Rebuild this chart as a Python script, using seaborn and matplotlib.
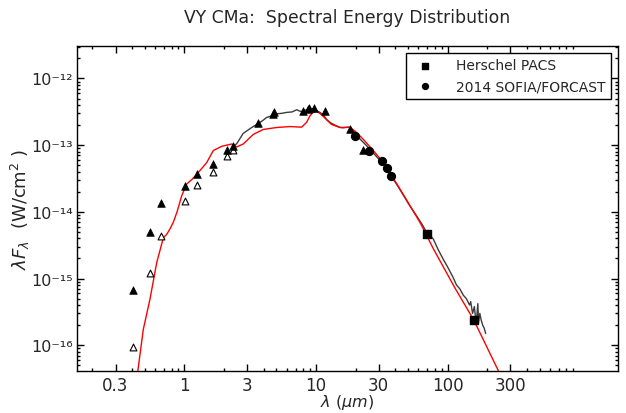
import numpy as np
import pandas as pd
import seaborn as sns
import matplotlib
matplotlib.use("Agg")
import matplotlib.pyplot as plt
from matplotlib.ticker import FixedLocator, NullFormatter, FuncFormatter

# Photometry: filled triangles (observed), open triangles (second set)
tri_fill_wl = [0.41, 0.55, 0.665, 1.02, 1.25, 1.65, 2.12, 2.34, 3.65, 4.69, 4.82,
               8.0, 8.65, 8.85, 9.71, 11.7, 18.1, 22.9]
tri_fill_f = [6.8e-16, 4.96e-15, 1.35e-14, 2.45e-14, 3.67e-14, 5.19e-14, 8.4e-14, 9.76e-14,
              2.14e-13, 2.98e-13, 3.09e-13, 3.2e-13, 3.47e-13, 3.58e-13, 3.55e-13, 3.2e-13,
              1.74e-13, 8.5e-14]

tri_open_wl = [0.41, 0.55, 0.665, 1.02, 1.25, 1.65, 2.12, 2.34]
tri_open_f = [9.3e-17, 1.23e-15, 4.36e-15, 1.43e-14, 2.54e-14, 3.9e-14, 6.9e-14, 8.4e-14]

# Herschel PACS and SOFIA/FORCAST
pacs_wl = [70, 160]
pacs_f = [4.63e-15, 2.4e-16]
forcast_wl = [19.7, 25.2, 31.5, 34.8, 37.1]
forcast_f = [1.35e-13, 8.2e-14, 5.8e-14, 4.48e-14, 3.4e-14]

# Spectrum (grey)
spec_wl = [2.36, 2.5, 2.8, 3.2, 3.55, 3.9, 4.22, 4.6, 5.03, 5.5, 6.0, 6.6, 7.15, 7.5, 7.8,
           8.3, 9.0, 9.5, 10.1, 10.7, 11.4, 12.1, 13.0, 14.3, 15.2, 16.1, 17.0, 18.1, 19.5,
           21.5, 24.3, 28, 32.5, 36, 41, 46, 51.6, 58, 65, 69, 74, 78, 85, 92.7, 100, 110,
           117, 124, 132, 139, 147, 150, 155, 160, 163, 166, 170, 172, 176, 180, 185, 190, 195]
spec_f = [9.5e-14, 1.05e-13, 1.5e-13, 1.8e-13, 2.05e-13, 2.3e-13, 2.6e-13, 2.75e-13, 2.95e-13,
          3.0e-13, 3.1e-13, 3.15e-13, 3.4e-13, 3.25e-13, 3.2e-13, 3.35e-13, 3.45e-13, 3.5e-13,
          3.3e-13, 3.1e-13, 2.85e-13, 2.4e-13, 2.15e-13, 1.95e-13, 1.85e-13, 1.82e-13, 1.85e-13,
          1.86e-13, 1.6e-13, 1.25e-13, 9.8e-14, 7.2e-14, 5.2e-14, 3.8e-14, 2.6e-14, 1.8e-14,
          1.24e-14, 8.8e-15, 6.2e-15, 5.0e-15, 4.4e-15, 3.9e-15, 2.7e-15, 1.95e-15, 1.5e-15,
          1.05e-15, 8.0e-16, 7.0e-16, 5.6e-16, 5.0e-16, 4.0e-16, 4.5e-16, 3.0e-16, 3.8e-16,
          2.6e-16, 2.4e-16, 4.2e-16, 2.2e-16, 3.0e-16, 2.4e-16, 2.0e-16, 1.8e-16, 1.5e-16]

# Model (red)
model_wl = [0.40, 0.443, 0.488, 0.548, 0.617, 0.693, 0.735, 0.78, 0.825, 0.88, 0.955, 1.04,
            1.15, 1.32, 1.48, 1.66, 1.92, 2.29, 2.5, 2.8, 3.34, 3.98, 5.03, 6.35, 7.78, 8.5,
            9.0, 9.5, 10.1, 10.7, 11.35, 13.1, 15.2, 18.1, 20, 22.9, 27, 32.5, 42.1, 61.6, 78,
            113, 158, 244, 320]
model_f = [1e-17, 4.1e-17, 1.74e-16, 4.9e-16, 1.74e-15, 4.1e-15, 4.6e-15, 5.6e-15, 7.0e-15,
           1.0e-14, 1.74e-14, 2.6e-14, 3.1e-14, 4.2e-14, 5.5e-14, 8.3e-14, 9.6e-14, 1.04e-13,
           9.4e-14, 1.04e-13, 1.45e-13, 1.72e-13, 1.84e-13, 1.9e-13, 1.86e-13, 2.2e-13, 2.75e-13,
           3.1e-13, 3.2e-13, 3.0e-13, 2.7e-13, 2.05e-13, 1.84e-13, 1.85e-13, 1.6e-13, 1.22e-13,
           8.5e-14, 5.5e-14, 2.45e-14, 7.0e-15, 2.8e-15, 7.4e-16, 2.4e-16, 4.1e-17, 1.5e-17]

x_ticks = [0.3, 1, 3, 10, 30, 100, 300]
x_labels = ["0.3", "1", "3", "10", "30", "100", "300"]
y_ticks = [1e-16, 1e-15, 1e-14, 1e-13, 1e-12]

xlim = (0.152, 1970)
ylim = (4.1e-17, 3.1e-12)

sns.set_style("ticks")
plt.rcParams["font.family"] = ["DejaVu Sans"]
plt.rcParams["mathtext.fontset"] = "dejavusans"

fig = plt.figure(figsize=(6.26, 4.14), dpi=100)
ax = fig.add_axes([0.1225, 0.1014, 0.8645, 0.7858])

sns.lineplot(x=spec_wl, y=spec_f, color="#3c3c3c", lw=1.0, sort=False,
             estimator=None, ax=ax)
sns.lineplot(x=model_wl, y=model_f, color="red", lw=1.0, sort=False,
             estimator=None, ax=ax)

sns.scatterplot(x=tri_open_wl, y=tri_open_f, marker="^", s=24, facecolor="white",
                edgecolor="black", linewidth=0.8, ax=ax, zorder=3)
sns.scatterplot(x=tri_fill_wl, y=tri_fill_f, marker="^", s=30, color="black",
                edgecolor="black", linewidth=0.5, ax=ax, zorder=3)
sq = ax.scatter(pacs_wl, pacs_f, marker="s", s=30, color="black", zorder=3,
                label="Herschel PACS")
ci = ax.scatter(forcast_wl, forcast_f, marker="o", s=32, color="black", zorder=3,
                label="2014 SOFIA/FORCAST")

ax.set_xscale("log")
ax.set_yscale("log")
ax.set_xlim(*xlim)
ax.set_ylim(*ylim)

# minor ticks only inside the visible range
def minor_ticks(lo, hi):
    out = []
    for e in range(int(np.floor(np.log10(lo))), int(np.ceil(np.log10(hi))) + 1):
        for m in range(2, 10):
            v = m * 10.0 ** e
            if lo <= v <= hi:
                out.append(v)
    return out

sup = str.maketrans("-0123456789", "⁻⁰¹²³⁴⁵⁶⁷⁸⁹")

ax.xaxis.set_major_locator(FixedLocator(x_ticks))
ax.set_xticklabels(x_labels)
ax.xaxis.set_minor_locator(FixedLocator(minor_ticks(*xlim)))
ax.xaxis.set_minor_formatter(NullFormatter())
ax.yaxis.set_major_locator(FixedLocator(y_ticks))
ax.yaxis.set_minor_locator(FixedLocator(minor_ticks(*ylim)))
ax.yaxis.set_minor_formatter(NullFormatter())
ax.yaxis.set_major_formatter(FuncFormatter(
    lambda v, p: "10" + str(round(np.log10(v))).translate(sup)))

ax.tick_params(which="both", direction="in", top=True, right=True, labelsize=12,
               color="black", width=1)
ax.tick_params(axis="y", which="major", labelsize=11.5, pad=3)
ax.tick_params(which="major", length=5)
ax.tick_params(which="minor", length=2.5)
for sp in ax.spines.values():
    sp.set_color("black")
    sp.set_linewidth(1)

ax.set_xlabel(r"$\lambda$ ($\mu m$)", fontsize=11.5)
ax.xaxis.set_label_coords(0.5, -0.066)
ax.set_ylabel(r"$\lambda F_\lambda$  (W/cm$^2$ )", fontsize=13)
ax.yaxis.set_label_coords(-0.083, 0.5)
ax.set_title("VY CMa:  Spectral Energy Distribution", fontsize=12.4, pad=17)

ax.legend(handles=[sq, ci], loc="upper right", fontsize=10, markerscale=0.75,
          frameon=True, fancybox=False, edgecolor="black", framealpha=1,
          borderaxespad=0.5, handletextpad=1.2)

plt.savefig("out.png", dpi=100)
